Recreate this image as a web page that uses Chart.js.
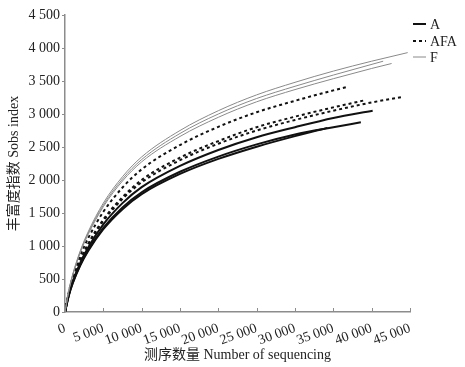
<!DOCTYPE html>
<html><head><meta charset="utf-8">
<script src="https://cdn.jsdelivr.net/npm/chart.js@4.4.1/dist/chart.umd.min.js"></script>
<style>html,body{margin:0;padding:0;background:#fff}#wrap{width:465px;height:367px}</style>
</head><body><div id="wrap"><canvas id="c" width="465" height="367"></canvas></div>
<script>
// ---- data ----
const groupNames = ['A', 'AFA', 'F'];
const xTickValues = [0, 5000, 10000, 15000, 20000, 25000, 30000, 35000, 40000, 45000];
const yTickValues = [0, 500, 1000, 1500, 2000, 2500, 3000, 3500, 4000, 4500];

// group A (thick solid)
const depthA1 = [0, 500, 1000, 2000, 3000, 5000, 7500, 10000, 15000, 20000, 25000, 30000, 35000, 40130];
const sobsA1  = [0, 266, 459, 749, 974, 1328, 1650, 1892, 2214, 2455, 2648, 2800, 2940, 3050];
const depthA2 = [0, 500, 1000, 2000, 3000, 5000, 7500, 10000, 15000, 20000, 25000, 30000, 35000, 38590];
const sobsA2  = [0, 255, 440, 720, 935, 1275, 1585, 1815, 2125, 2355, 2540, 2690, 2800, 2874];
const depthA3 = [0, 500, 1000, 2000, 3000, 5000, 7500, 10000, 15000, 20000, 25000, 30000, 34240];
const sobsA3  = [0, 250, 433, 707, 920, 1254, 1558, 1786, 2092, 2320, 2505, 2665, 2790];

// group AFA (dashed)
const depthAFA1 = [0, 500, 1000, 2000, 3000, 5000, 7500, 10000, 15000, 20000, 25000, 30000, 35000, 36630];
const sobsAFA1  = [0, 304, 524, 855, 1113, 1518, 1886, 2162, 2530, 2806, 3027, 3200, 3358, 3404];
const depthAFA2 = [0, 500, 1000, 2000, 3000, 5000, 7500, 10000, 15000, 20000, 25000, 30000, 35000, 39240];
const sobsAFA2  = [0, 280, 485, 790, 1030, 1400, 1740, 2000, 2340, 2590, 2800, 2960, 3100, 3212];
const depthAFA3 = [0, 500, 1000, 2000, 3000, 5000, 7500, 10000, 15000, 20000, 25000, 30000, 35000, 40000, 43820];
const sobsAFA3  = [0, 276, 477, 777, 1012, 1380, 1714, 1965, 2300, 2550, 2750, 2910, 3050, 3175, 3253];

// group F (thin grey)
const depthF1 = [0, 500, 1000, 2000, 3000, 5000, 7500, 10000, 15000, 20000, 25000, 30000, 35000, 40000, 44700];
const sobsF1  = [0, 330, 570, 930, 1210, 1650, 2050, 2350, 2750, 3050, 3290, 3480, 3650, 3800, 3930];
const depthF2 = [0, 500, 1000, 2000, 3000, 5000, 7500, 10000, 15000, 20000, 25000, 30000, 35000, 41500];
const sobsF2  = [0, 325, 560, 915, 1190, 1620, 2015, 2310, 2705, 3000, 3235, 3420, 3590, 3800];
const depthF3 = [0, 500, 1000, 2000, 3000, 5000, 7500, 10000, 15000, 20000, 25000, 30000, 35000, 40000, 42600];
const sobsF3  = [0, 320, 550, 900, 1170, 1595, 1985, 2275, 2660, 2950, 3185, 3370, 3535, 3690, 3765];

// ---- styling ----
const styleA   = {borderColor: '#111', borderWidth: 2, borderDash: []};
const styleAFA = {borderColor: '#111', borderWidth: 2, borderDash: [3, 3]};
const styleF   = {borderColor: '#8a8a8a', borderWidth: 1, borderDash: []};

function pts(xs, ys) { return xs.map((x, i) => ({x: x, y: ys[i]})); }
function ds(label, xs, ys, st) {
  return Object.assign({label: label, data: pts(xs, ys), showLine: true, pointRadius: 0,
    fill: false, cubicInterpolationMode: 'monotone', borderCapStyle: 'butt'}, st);
}
const datasets = [
  ds('F', depthF1, sobsF1, styleF), ds('F', depthF2, sobsF2, styleF), ds('F', depthF3, sobsF3, styleF),
  ds('AFA', depthAFA1, sobsAFA1, styleAFA), ds('AFA', depthAFA2, sobsAFA2, styleAFA), ds('AFA', depthAFA3, sobsAFA3, styleAFA),
  ds('A', depthA1, sobsA1, styleA), ds('A', depthA2, sobsA2, styleA), ds('A', depthA3, sobsA3, styleA)
];

function fmt(v) { return String(v).replace(/\B(?=(\d{3})+(?!\d))/g, ' '); }
const serif = '"Liberation Serif", "Times New Roman", "Noto Sans CJK SC", serif';
const axisGrey = '#8c8c8c';

const legendPlugin = {
  id: 'customLegend',
  afterDraw(chart) {
    const ctx = chart.ctx;
    const styles = [styleA, styleAFA, styleF];
    const ys = [24, 41, 57];
    ctx.save();
    ctx.font = '14px ' + serif;
    ctx.textBaseline = 'middle';
    ctx.fillStyle = '#222';
    groupNames.forEach((n, i) => {
      const st = styles[i];
      ctx.beginPath();
      ctx.strokeStyle = st.borderColor;
      ctx.lineWidth = st.borderWidth;
      ctx.setLineDash(st.borderDash);
      ctx.moveTo(413, ys[i]); ctx.lineTo(426, ys[i]);
      ctx.stroke();
      ctx.setLineDash([]);
      ctx.fillText(n, 430, ys[i] + 1);
    });
    // inward tick marks on x axis
    const xs = chart.scales.x, bottom = chart.chartArea.bottom;
    ctx.strokeStyle = axisGrey; ctx.lineWidth = 1;
    xTickValues.forEach(v => {
      const px = Math.round(xs.getPixelForValue(v)) + 0.5;
      ctx.beginPath(); ctx.moveTo(px, bottom); ctx.lineTo(px, bottom - 4); ctx.stroke();
    });
    ctx.restore();
  }
};

new Chart(document.getElementById('c'), {
  type: 'scatter',
  data: {datasets: datasets},
  options: {
    responsive: false, animation: false,
    layout: {padding: {top: 15, right: 55, left: 0, bottom: 0}},
    plugins: {legend: {display: false}, tooltip: {enabled: false}},
    scales: {
      x: {
        type: 'linear', min: 0, max: 45000,
        afterBuildTicks: s => { s.ticks = xTickValues.map(v => ({value: v})); },
        afterFit: s => { s.height = 55; },
        grid: {display: false},
        border: {color: axisGrey, width: 1.5},
        ticks: {color: '#222', font: {family: serif, size: 14}, minRotation: 20, maxRotation: 20,
          autoSkip: false, padding: 0, callback: v => fmt(v)},
        title: {display: true, text: '测序数量 Number of sequencing', color: '#222',
          font: {family: serif, size: 14}, padding: {top: 0, bottom: 3}}
      },
      y: {
        type: 'linear', min: 0, max: 4500,
        afterBuildTicks: s => { s.ticks = yTickValues.map(v => ({value: v})); },
        afterFit: s => { s.width = 65; },
        grid: {drawOnChartArea: false, drawTicks: true, tickLength: 3, color: axisGrey},
        border: {color: axisGrey, width: 1.5},
        ticks: {color: '#222', font: {family: serif, size: 14}, padding: 2, callback: v => fmt(v)},
        title: {display: true, text: '丰富度指数 Sobs index', color: '#222',
          font: {family: serif, size: 14}, padding: {top: 6, bottom: 0}}
      }
    }
  },
  plugins: [legendPlugin]
});
</script>
</body></html>
